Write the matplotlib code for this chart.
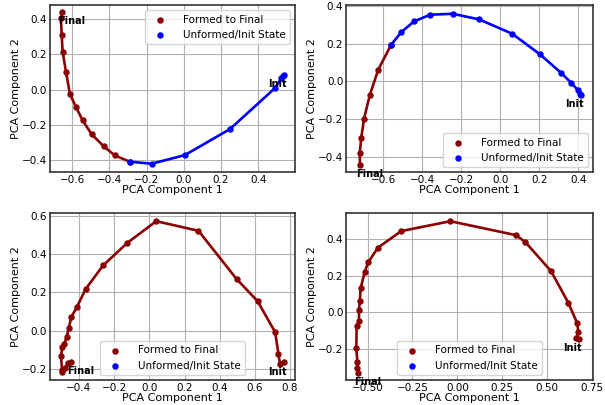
import matplotlib
matplotlib.use("Agg")
import matplotlib.pyplot as plt
from matplotlib.ticker import MultipleLocator

# panel 1 (top left)
p1_unformed_x = [0.540, 0.534, 0.525, 0.490, 0.248, 0.006, -0.173, -0.290]
p1_unformed_y = [0.085, 0.078, 0.065, 0.008, -0.225, -0.373, -0.422, -0.411]
p1_formed_x = [-0.290, -0.371, -0.430, -0.496, -0.544, -0.580, -0.613, -0.634, -0.652, -0.657, -0.661, -0.654]
p1_formed_y = [-0.411, -0.375, -0.324, -0.254, -0.176, -0.100, -0.024, 0.102, 0.216, 0.311, 0.406, 0.440]

# panel 2 (top right)
p2_unformed_x = [0.415, 0.408, 0.398, 0.364, 0.310, 0.203, 0.061, -0.108, -0.244, -0.359, -0.441, -0.507, -0.559]
p2_unformed_y = [-0.074, -0.065, -0.048, -0.009, 0.046, 0.143, 0.252, 0.328, 0.358, 0.353, 0.318, 0.261, 0.194]
p2_formed_x = [-0.559, -0.625, -0.668, -0.698, -0.712, -0.720, -0.719]
p2_formed_y = [0.194, 0.062, -0.071, -0.198, -0.298, -0.379, -0.441]

# panel 3 (bottom left) - no unformed states
p3_unformed_x = []
p3_unformed_y = []
p3_formed_x = [0.766, 0.743, 0.734, 0.715, 0.615, 0.496, 0.279, 0.039, -0.125, -0.263, -0.363, -0.411,
               -0.443, -0.458, -0.471, -0.484, -0.494, -0.503, -0.496, -0.496, -0.480, -0.462, -0.443]
p3_formed_y = [-0.165, -0.174, -0.122, -0.007, 0.155, 0.270, 0.522, 0.572, 0.459, 0.341, 0.217, 0.125,
               0.073, 0.016, -0.035, -0.070, -0.087, -0.130, -0.205, -0.214, -0.196, -0.170, -0.162]

# panel 4 (bottom right) - no unformed states
p4_unformed_x = []
p4_unformed_y = []
p4_formed_x = [0.679, 0.661, 0.674, 0.668, 0.618, 0.522, 0.378, 0.326, -0.039, -0.313, -0.443, -0.497,
               -0.517, -0.539, -0.543, -0.548, -0.548, -0.561, -0.563, -0.557, -0.557, -0.552]
p4_formed_y = [-0.145, -0.142, -0.109, -0.060, 0.053, 0.225, 0.385, 0.422, 0.498, 0.444, 0.353, 0.273,
               0.218, 0.131, 0.064, 0.013, -0.045, -0.073, -0.196, -0.269, -0.305, -0.329]

panels = [
    (p1_unformed_x, p1_unformed_y, p1_formed_x, p1_formed_y, (-0.72, 0.598), (-0.47, 0.48), "upper right", 0.2),
    (p2_unformed_x, p2_unformed_y, p2_formed_x, p2_formed_y, (-0.79, 0.474), (-0.481, 0.403), "lower right", 0.2),
    (p3_unformed_x, p3_unformed_y, p3_formed_x, p3_formed_y, (-0.565, 0.828), (-0.257, 0.614), "lower center", 0.2),
    (p4_unformed_x, p4_unformed_y, p4_formed_x, p4_formed_y, (-0.62, 0.755), (-0.369, 0.542), "lower center", 0.25),
]

positions = [
    [0.0826, 0.575, 0.405, 0.412],
    [0.572, 0.575, 0.408, 0.412],
    [0.0826, 0.0617, 0.405, 0.412],
    [0.572, 0.0617, 0.408, 0.412],
]

fig = plt.figure(figsize=(6.05, 4.05), dpi=100)

for (ux, uy, fx, fy, xlim, ylim, loc, xstep), pos in zip(panels, positions):
    ax = fig.add_axes(pos)
    ax.grid(True, color="#b0b0b0", linewidth=0.8)
    ax.set_axisbelow(True)

    ax.plot(ux, uy, "-", color="blue", linewidth=1.9)
    ax.plot(fx, fy, "-", color="darkred", linewidth=1.9)
    ax.scatter(fx, fy, s=13, color="darkred", label="Formed to Final", zorder=3)
    ax.scatter(ux, uy, s=13, color="blue", label="Unformed/Init State", zorder=3)

    # start and end labels
    if len(ux) > 0:
        init_pt = (ux[0], uy[0])
    else:
        init_pt = (fx[0], fy[0])
    final_pt = (fx[-1], fy[-1])
    ax.annotate("Init", init_pt, xytext=(2, -3), textcoords="offset points",
                ha="right", va="top", fontsize=7, fontweight="bold")
    ax.annotate("Final", final_pt, xytext=(-3, -3), textcoords="offset points",
                ha="left", va="top", fontsize=7, fontweight="bold", annotation_clip=False)

    ax.set_xlim(*xlim)
    ax.set_ylim(*ylim)
    ax.xaxis.set_major_locator(MultipleLocator(xstep))
    ax.set_xlabel("PCA Component 1", fontsize=8, labelpad=0)
    ax.set_ylabel("PCA Component 2", fontsize=8, labelpad=1)
    ax.tick_params(labelsize=7.5, length=0, pad=2)
    for s in ax.spines.values():
        s.set_color("#333333")
        s.set_linewidth(1.2)
    ax.legend(loc=loc, fontsize=7.5, framealpha=0.8, handletextpad=1.2)

fig.savefig("out.png", dpi=100)
